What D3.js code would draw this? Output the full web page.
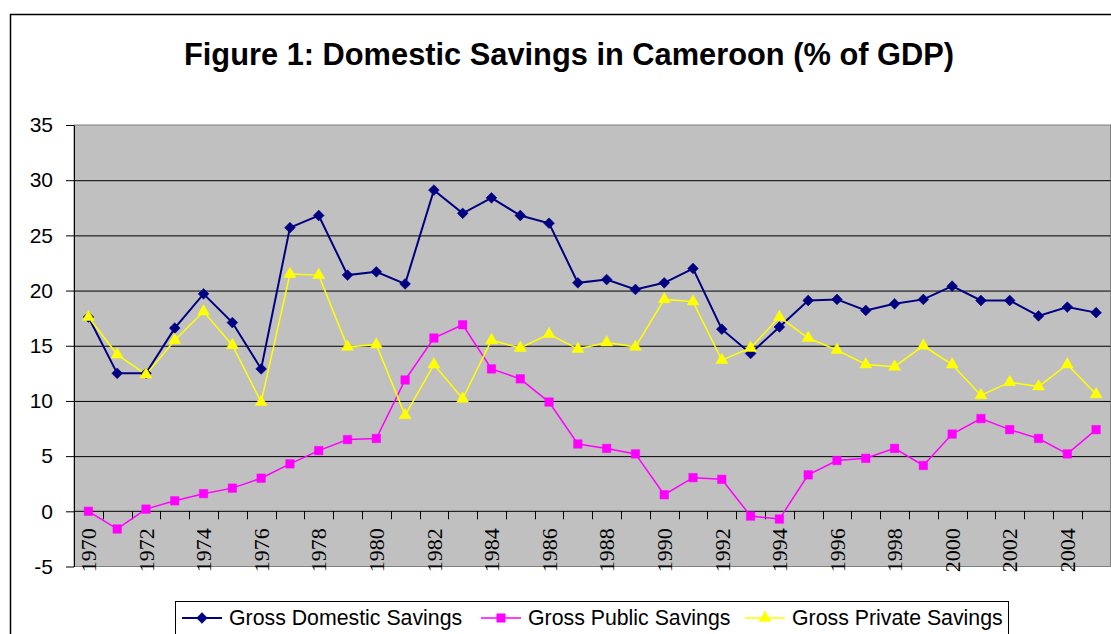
<!DOCTYPE html>
<html>
<head>
<meta charset="utf-8">
<script src="https://cdn.jsdelivr.net/npm/d3@7"></script>
<style>
  html, body { margin: 0; padding: 0; background: #fff; }
  svg { display: block; }
</style>
</head>
<body>
<svg id="chart" width="1111" height="634"></svg>
<script>
// data
const years = d3.range(1970, 2006);
const domestic = [17.6, 12.5, 12.5, 16.6, 19.7, 17.1, 12.9, 25.7, 26.8, 21.4,
  21.7, 20.6, 29.1, 27.0, 28.4, 26.8, 26.1, 20.7, 21.0, 20.1,
  20.7, 22.0, 16.5, 14.3, 16.7, 19.1, 19.2, 18.2, 18.8, 19.2,
  20.4, 19.1, 19.1, 17.7, 18.5, 18.0];
const publicSav = [0.0, -1.6, 0.2, 0.95, 1.6, 2.1, 3.0, 4.3, 5.5, 6.5,
  6.6, 11.9, 15.7, 16.9, 12.9, 12.0, 9.9, 6.1, 5.7, 5.2,
  1.5, 3.05, 2.9, -0.43, -0.7, 3.3, 4.6, 4.8, 5.7, 4.15,
  7.0, 8.4, 7.4, 6.6, 5.2, 7.4];
const privateSav = [17.6, 14.2, 12.4, 15.5, 18.1, 15.05, 9.9, 21.5, 21.4, 14.9,
  15.1, 8.7, 13.3, 10.2, 15.5, 14.8, 16.05, 14.7, 15.3, 14.9,
  19.2, 19.0, 13.7, 14.8, 17.6, 15.7, 14.6, 13.3, 13.1, 15.0,
  13.3, 10.5, 11.7, 11.3, 13.3, 10.6];
const yTicks = [-5, 0, 5, 10, 15, 20, 25, 30, 35];
const xLabelYears = years.filter(y => y % 2 === 0 && y < 2005);

const series = [
  { name: 'Gross Domestic Savings', values: domestic, color: '#000080', width: 2, shape: 'diamond' },
  { name: 'Gross Public Savings', values: publicSav, color: '#ff00ff', width: 1.5, shape: 'square' },
  { name: 'Gross Private Savings', values: privateSav, color: '#ffff00', width: 1.5, shape: 'triangle' }
];

const svg = d3.select('#chart');
const plot = { left: 74, top: 125, right: 1110.5, bottom: 566.5 };

const x = d3.scaleBand().domain(years).range([plot.left, plot.right]).padding(0);
const y = d3.scaleLinear().domain([-5, 35]).range([plot.bottom, plot.top]);
const cx = d => x(d) + x.bandwidth() / 2;

// outer chart frame
svg.append('rect')
  .attr('x', 10.5).attr('y', 14.5)
  .attr('width', 1120).attr('height', 640)
  .attr('fill', '#fff').attr('stroke', '#000').attr('stroke-width', 1.5);

svg.append('text')
  .attr('x', 569).attr('y', 65)
  .attr('text-anchor', 'middle')
  .attr('font-family', 'Arial, "Liberation Sans", sans-serif')
  .attr('font-weight', 'bold')
  .attr('font-size', 30.8)
  .text('Figure 1: Domestic Savings in Cameroon (% of GDP)');

// plot area
svg.append('rect')
  .attr('x', plot.left).attr('y', plot.top)
  .attr('width', plot.right - plot.left).attr('height', plot.bottom - plot.top)
  .attr('fill', '#c0c0c0').attr('stroke', '#808080').attr('stroke-width', 1);

// horizontal gridlines
const grid = svg.append('g')
  .attr('transform', `translate(${plot.left},0)`)
  .call(d3.axisRight(y).tickValues(yTicks.filter(v => v > 0 && v < 35)).tickSize(plot.right - plot.left).tickFormat(''));
grid.select('.domain').remove();
grid.selectAll('line').attr('stroke', '#000').attr('stroke-width', 1);

// y axis
const yAxis = svg.append('g')
  .attr('transform', `translate(${plot.left},0)`)
  .call(d3.axisLeft(y).tickValues(yTicks).tickSize(8).tickPadding(13).tickSizeOuter(0)
    .tickFormat(d => String(d)));
yAxis.select('.domain').attr('stroke', '#000');
yAxis.selectAll('line').attr('stroke', '#000');
yAxis.selectAll('text')
  .attr('font-family', 'Arial, "Liberation Sans", sans-serif')
  .attr('font-size', 21)
  .attr('fill', '#000');

// category axis at zero, ticks between categories
const zeroY = y(0);
const xAxis = svg.append('g').attr('transform', `translate(0,${zeroY})`);
xAxis.append('line')
  .attr('x1', plot.left).attr('x2', plot.right)
  .attr('stroke', '#000');
xAxis.selectAll('.tick-mark')
  .data(years.slice(1))
  .join('line')
  .attr('class', 'tick-mark')
  .attr('x1', d => Math.round(x(d)) + 0.5).attr('x2', d => Math.round(x(d)) + 0.5)
  .attr('y1', 0).attr('y2', 8)
  .attr('stroke', '#000');
xAxis.selectAll('.year')
  .data(xLabelYears)
  .join('text')
  .attr('class', 'year')
  .attr('transform', d => `translate(${cx(d)},17) rotate(-90)`)
  .attr('text-anchor', 'end')
  .attr('dy', '0.35em')
  .style('font-family', "'Liberation Serif', 'Times New Roman', serif")
  .attr('font-size', 22)
  .attr('fill', '#000')
  .text(d => d);

// series lines and markers
const line = d3.line().x((d, i) => cx(years[i])).y(d => y(d));
const symbolFor = {
  diamond: d3.symbol(d3.symbolSquare, 58),
  square: d3.symbol(d3.symbolSquare, 72),
  triangle: d3.symbol(d3.symbolTriangle, 62)
};
const rotFor = { diamond: 45, square: 0, triangle: 0 };

series.forEach(s => {
  svg.append('path')
    .datum(s.values)
    .attr('d', line)
    .attr('fill', 'none')
    .attr('stroke', s.color)
    .attr('stroke-width', s.width);
});
series.forEach(s => {
  svg.append('g')
    .selectAll('path')
    .data(s.values)
    .join('path')
    .attr('d', symbolFor[s.shape])
    .attr('transform', (d, i) => `translate(${cx(years[i])},${y(d)}) rotate(${rotFor[s.shape]})`)
    .attr('fill', s.color)
    .attr('stroke', s.color)
    .attr('stroke-width', 0.5);
});

// legend
const legend = svg.append('g');
legend.append('rect')
  .attr('x', 175.5).attr('y', 601.5)
  .attr('width', 833).attr('height', 60)
  .attr('fill', '#fff').attr('stroke', '#000').attr('stroke-width', 1);
const legendX = [182, 481, 745];
series.forEach((s, i) => {
  const g = legend.append('g').attr('transform', `translate(${legendX[i]},618)`);
  g.append('line')
    .attr('x1', 0).attr('x2', 40)
    .attr('stroke', s.color).attr('stroke-width', s.width);
  g.append('path')
    .attr('d', symbolFor[s.shape])
    .attr('transform', `translate(20,0) rotate(${rotFor[s.shape]})`)
    .attr('fill', s.color).attr('stroke', s.color).attr('stroke-width', 0.5);
  g.append('text')
    .attr('x', 47).attr('dy', '0.35em')
    .attr('font-family', 'Arial, "Liberation Sans", sans-serif')
    .attr('font-size', 21.3)
    .attr('fill', '#000')
    .text(s.name);
});
</script>
</body>
</html>
